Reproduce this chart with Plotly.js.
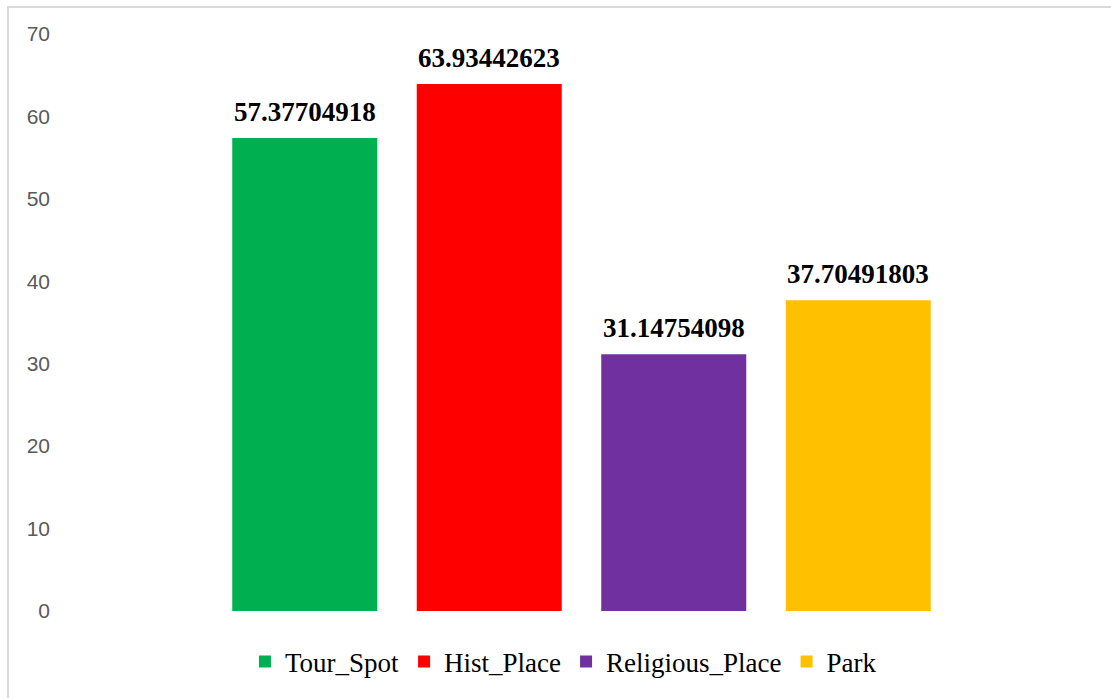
<!DOCTYPE html>
<html>
<head>
<meta charset="utf-8">
<script src="https://cdn.plot.ly/plotly-3.0.1.min.js"></script>
<style>
  html, body { margin: 0; padding: 0; background: #fff; overflow: hidden; }
  #chart { width: 1111px; height: 698px; }
  #frame { position: absolute; left: 7px; top: 6px; width: 1200px; height: 800px;
           border-left: 2px solid #d9d9d9; border-top: 2px solid #d9d9d9; pointer-events: none; }
</style>
</head>
<body>
<div id="chart"></div>
<div id="frame"></div>
<script>
const seriesNames = ["Tour_Spot", "Hist_Place", "Religious_Place", "Park"];
const seriesValues = [57.37704918, 63.93442623, 31.14754098, 37.70491803];
const seriesColors = ["#00B050", "#FF0000", "#7030A0", "#FFC000"];
const yTicks = [0, 10, 20, 30, 40, 50, 60, 70];

const traces = seriesNames.map((name, i) => ({
  type: "bar",
  name: name,
  x: [name],
  y: [seriesValues[i]],
  marker: { color: seriesColors[i] },
  hoverinfo: "name+y"
}));

const annotations = seriesNames.map((name, i) => ({
  x: name,
  y: seriesValues[i],
  xref: "x",
  yref: "y",
  text: String(seriesValues[i]),
  showarrow: false,
  yanchor: "bottom",
  yshift: 9,
  font: { family: "Liberation Serif", size: 27, color: "#000", weight: "bold" }
}));

const layout = {
  width: 1111,
  height: 698,
  margin: { l: 60, r: 8, t: 34, b: 87 },
  paper_bgcolor: "#fff",
  plot_bgcolor: "#fff",
  barmode: "overlay",
  bargap: 0.214,
  showlegend: true,
  annotations: annotations,
  legend: {
    orientation: "h",
    x: 0.4827,
    xanchor: "center",
    y: -0.046,
    yanchor: "top",
    font: { family: "Liberation Serif", size: 27, color: "#000" },
    itemwidth: 30,
    traceorder: "normal"
  },
  xaxis: {
    type: "category",
    range: [-1.3266, 4.3266],
    showticklabels: false,
    showgrid: false,
    zeroline: false,
    showline: false,
    fixedrange: true
  },
  yaxis: {
    range: [0, 70],
    tickvals: yTicks,
    ticktext: yTicks.map(String),
    showgrid: false,
    zeroline: false,
    showline: false,
    ticks: "",
    ticklabelstandoff: 9,
    tickfont: { family: "Liberation Sans", size: 21, color: "#595959" },
    fixedrange: true
  }
};

Plotly.newPlot("chart", traces, layout, { displayModeBar: false, staticPlot: true });
</script>
</body>
</html>
